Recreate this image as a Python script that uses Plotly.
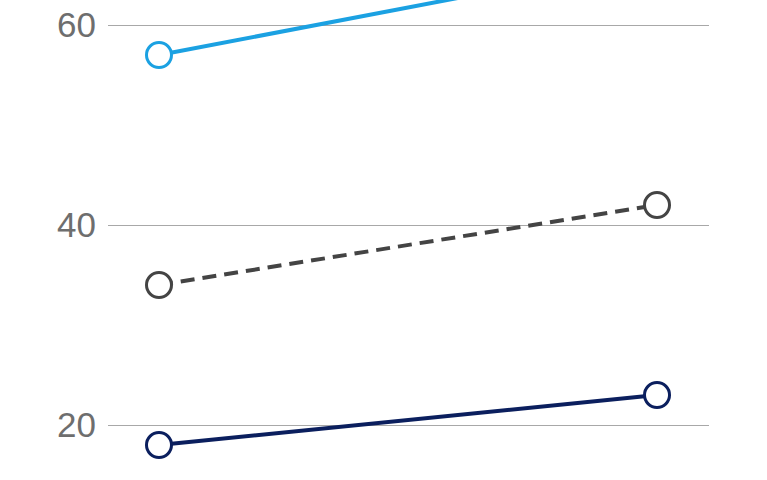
import plotly.graph_objects as go

x_points = [0, 1]
series_names = ["Light blue", "Dark gray dashed", "Navy"]
light_blue = [57, 66.5]
dark_gray = [34, 42]
navy = [18, 23]
y_ticks = [20, 40, 60]
y_tick_labels = ["20", "40", "60"]

colors = ["#1BA1E2", "#444444", "#0B1F5E"]
dashes = ["solid", "14px,8px", "solid"]
values = [light_blue, dark_gray, navy]

fig = go.Figure()
for name, vals, col, dash in zip(series_names, values, colors, dashes):
    fig.add_trace(go.Scatter(
        x=x_points, y=vals, name=name, mode="lines+markers",
        line=dict(color=col, width=4, dash=dash),
        marker=dict(size=25, color="white", line=dict(color=col, width=3)),
        cliponaxis=True,
    ))

fig.update_layout(
    width=767, height=480,
    margin=dict(l=108, r=58, t=0, b=0),
    paper_bgcolor="white", plot_bgcolor="white",
    showlegend=False,
    font=dict(family="Liberation Sans, Arial, sans-serif"),
)
fig.update_xaxes(range=[-0.1024, 1.1044], showgrid=False, zeroline=False,
                 showticklabels=False, showline=False)
fig.update_yaxes(range=[14.5, 62.5], tickvals=y_ticks, ticktext=y_tick_labels,
                 showgrid=True, gridcolor="#A8A8A8", gridwidth=1,
                 zeroline=False, showline=False, ticks="",
                 tickfont=dict(size=35, color="#6E6E6E"),
                 ticklabelstandoff=11)

fig.write_html("out.html", config={"displayModeBar": False},
               post_script="document.body.style.margin='0';")
